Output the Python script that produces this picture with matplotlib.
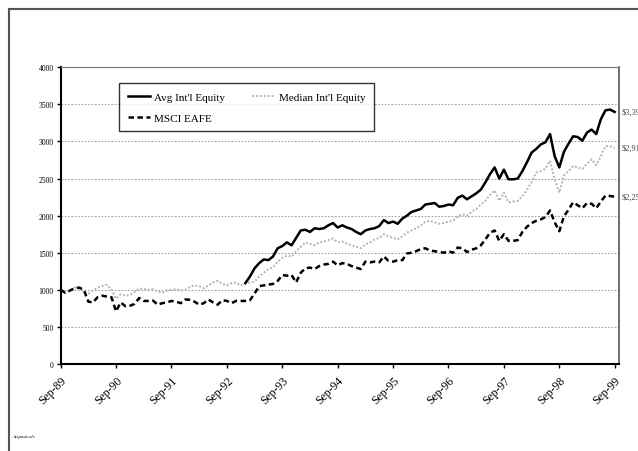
import matplotlib
matplotlib.use("Agg")
import matplotlib.pyplot as plt
from matplotlib.lines import Line2D
import numpy as np

# monthly values, Sep-89 .. Sep-99 (121 points)
msci_eafe = [
    1000, 960, 990, 1020, 1030, 1000, 840, 830, 900, 920, 910, 900,
    710, 830, 780, 785, 810, 890, 850, 850, 855, 800, 820, 830,
    850, 840, 820, 870, 865, 840, 800, 820, 870, 830, 800, 860,
    850, 820, 850, 850, 850, 860, 950, 1050, 1060, 1070, 1080, 1120,
    1200, 1190, 1200, 1100, 1230, 1290, 1300, 1280, 1320, 1340, 1350, 1380,
    1330, 1360, 1350, 1320, 1300, 1280, 1380, 1370, 1380, 1370, 1450, 1390,
    1380, 1400, 1400, 1490, 1500, 1520, 1550, 1560, 1530, 1520, 1510, 1500,
    1520, 1500, 1570, 1560, 1510, 1540, 1560, 1600, 1680, 1770, 1800, 1660,
    1750, 1660, 1660, 1670, 1780, 1850, 1900, 1930, 1950, 1980, 2070, 1910,
    1790, 1990, 2080, 2180, 2140, 2100, 2170, 2160, 2100, 2190, 2270, 2265,
    2255,
]

median_intl = [
    1000, 960, 990, 1030, 1020, 980, 950, 990, 1030, 1050, 1070, 1000,
    880, 940, 920, 930, 970, 1020, 1010, 1000, 1010, 980, 960, 990,
    1000, 1010, 990, 1000, 1040, 1060, 1050, 1020, 1060, 1100, 1120, 1080,
    1060, 1090, 1100, 1060, 1090, 1100, 1110, 1180, 1230, 1280, 1300, 1380,
    1430, 1460, 1450, 1520, 1580, 1640, 1620, 1600, 1640, 1650, 1670, 1690,
    1640, 1650, 1620, 1600, 1580, 1560, 1610, 1640, 1680, 1700, 1750, 1720,
    1700, 1680, 1720, 1770, 1800, 1830, 1870, 1920, 1930, 1910, 1890, 1900,
    1920, 1930, 1990, 2020, 2000, 2050, 2090, 2150, 2200, 2280, 2340, 2200,
    2310, 2180, 2190, 2200, 2260, 2350, 2450, 2580, 2600, 2630, 2740, 2490,
    2310, 2540, 2600, 2670, 2650, 2630, 2700, 2760, 2680, 2800, 2940, 2935,
    2915,
]

avg_intl = [np.nan] * 40 + [
    1090, 1180, 1290, 1360, 1410, 1400, 1450, 1560,
    1590, 1640, 1600, 1700, 1800, 1810, 1780, 1830, 1820, 1830, 1870, 1900,
    1840, 1870, 1840, 1820, 1780, 1750, 1800, 1820, 1830, 1860, 1940, 1900,
    1920, 1890, 1960, 2000, 2050, 2070, 2090, 2150, 2160, 2170, 2120, 2130,
    2150, 2140, 2240, 2270, 2220, 2260, 2300, 2350, 2450, 2560, 2650, 2500,
    2620, 2490, 2490, 2500, 2600, 2720, 2850, 2900, 2960, 2990, 3100, 2800,
    2650, 2860, 2970, 3070, 3060, 3010, 3120, 3160, 3100, 3300, 3420, 3430,
    3398,
]

tick_labels = ["Sep-89", "Sep-90", "Sep-91", "Sep-92", "Sep-93", "Sep-94",
               "Sep-95", "Sep-96", "Sep-97", "Sep-98", "Sep-99"]
end_labels = ["$3,398", "$2,915", "$2,255"]

months = np.arange(len(msci_eafe))
serif = ["Liberation Serif", "DejaVu Serif"]

fig = plt.figure(figsize=(6.38, 4.52), dpi=100)
ax = fig.add_axes([0.0951, 0.1925, 0.8756, 0.6564])

ax.plot(months, median_intl, color="#b4b4b4", lw=1.4, ls=(0, (1, 1)),
        label="Median Int'l Equity", zorder=3)
ax.plot(months, msci_eafe, color="black", lw=1.8, ls=(0, (2.2, 1.4)),
        label="MSCI EAFE", zorder=4)
ax.plot(months, avg_intl, color="black", lw=1.8, label="Avg Int'l Equity", zorder=5)

ax.set_xlim(0, 121)
ax.set_ylim(0, 4000)
ax.set_yticks(range(0, 4001, 500))
ax.set_xticks(range(0, 121, 12))
ax.set_xticklabels(tick_labels, rotation=45, ha="right", va="top",
                   rotation_mode="anchor", family=serif, fontsize=8.5)
for lab in ax.get_yticklabels():
    lab.set_family(serif)
    lab.set_fontsize(5.5)

ax.tick_params(axis="y", direction="out", length=3, width=1, pad=2)
ax.tick_params(axis="x", direction="out", length=3, width=1, pad=4)

for y in range(500, 4001, 500):
    ax.axhline(y, color="#a0a0a0", lw=0.8, ls=(0, (1.5, 1.5)), zorder=1)

ax.spines["left"].set_linewidth(1.5)
ax.spines["bottom"].set_linewidth(1.5)
ax.spines["top"].set_color("#777777")
ax.spines["top"].set_linewidth(0.8)
ax.spines["right"].set_color("#555555")
ax.spines["right"].set_linewidth(1.2)

# values at the right end of each line (cut by the page edge, as in the source)
for val, lab in zip([avg_intl[-1], median_intl[-1], msci_eafe[-1]], end_labels):
    ax.text(121.6, val, lab, fontsize=6, family=serif, color="#444444",
            va="center", ha="left", clip_on=False)

handles, labels = ax.get_legend_handles_labels()
order = [2, 1, 0]
leg = ax.legend([handles[i] for i in order], [labels[i] for i in order],
                ncol=2, loc="upper left", bbox_to_anchor=(0.104, 0.947),
                borderaxespad=0,
                prop={"family": serif, "size": 8}, frameon=True, fancybox=False,
                shadow=False, borderpad=0.8, handlelength=2.0,
                columnspacing=2.4, labelspacing=1.0, handletextpad=0.4)
leg.get_frame().set_edgecolor("black")
leg.get_frame().set_linewidth(1.0)

fig.text(0.019, 0.031, "Actpaas.xls", fontsize=3.5, style="italic", family=serif)

# outer frame of the sheet
fig.add_artist(Line2D([0.0141, 0.0141], [0, 0.978], color="#555555", lw=1.5,
                      transform=fig.transFigure))
fig.add_artist(Line2D([0.0141, 1.0], [0.978, 0.978], color="#555555", lw=1.5,
                      transform=fig.transFigure))

fig.savefig("out.png", dpi=100)
